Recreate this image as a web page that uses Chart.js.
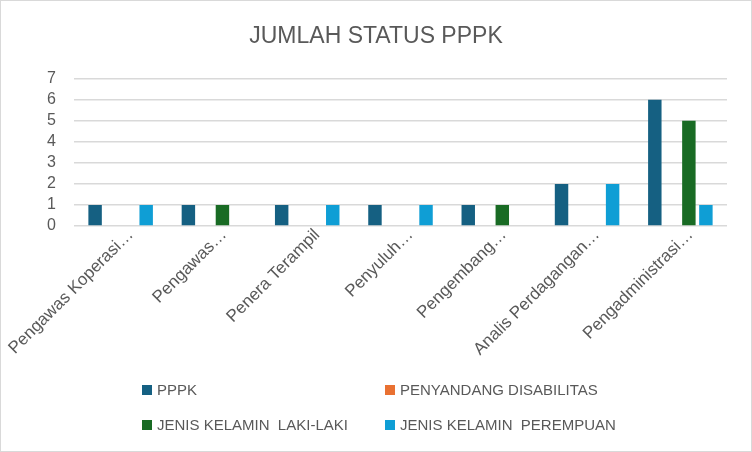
<!DOCTYPE html>
<html>
<head>
<meta charset="utf-8">
<script src="https://cdn.jsdelivr.net/npm/chart.js@4/dist/chart.umd.min.js"></script>
<style>
  html, body { margin: 0; padding: 0; background: #fff; }
  #wrap { width: 752px; height: 452px; box-sizing: border-box; border: 1px solid #d9d9d9; }
  canvas { display: block; }
</style>
</head>
<body>
<div id="wrap"><canvas id="chartCanvas" width="750" height="450"></canvas></div>
<script>
// data
const categories = ['Pengawas Koperasi…', 'Pengawas…', 'Penera Terampil', 'Penyuluh…', 'Pengembang…', 'Analis Perdagangan…', 'Pengadministrasi…'];
const seriesNames = ['PPPK', 'PENYANDANG DISABILITAS', 'JENIS KELAMIN  LAKI-LAKI', 'JENIS KELAMIN  PEREMPUAN'];
const pppk = [1, 1, 1, 1, 1, 2, 6];
const disabilitas = [0, 0, 0, 0, 0, 0, 0];
const lakiLaki = [0, 1, 0, 0, 1, 0, 5];
const perempuan = [1, 0, 1, 1, 0, 2, 1];
const yTicks = [0, 1, 2, 3, 4, 5, 6, 7];

const colors = ['#156082', '#E97132', '#196B24', '#0F9ED5'];
const textColor = '#595959';
const fontFamily = '"Liberation Sans", Arial, sans-serif';

// legend in two columns, like the Excel one
const gridLegend = {
  id: 'gridLegend',
  afterDraw(chart) {
    const ctx = chart.ctx;
    const cols = [chart.width * 0.188, chart.width * 0.512];
    const rows = [chart.height - 61, chart.height - 26];
    ctx.save();
    ctx.font = '15px ' + fontFamily;
    ctx.textBaseline = 'middle';
    chart.data.datasets.forEach(function(ds, i) {
      const x = cols[i % 2];
      const y = rows[Math.floor(i / 2)];
      ctx.fillStyle = ds.backgroundColor;
      ctx.fillRect(x, y - 5, 10, 10);
      ctx.fillStyle = textColor;
      ctx.fillText(ds.label, x + 15, y + 1);
    });
    ctx.restore();
  }
};

const allSeries = [pppk, disabilitas, lakiLaki, perempuan];

const myChart = new Chart(document.getElementById('chartCanvas'), {
  type: 'bar',
  data: {
    labels: categories,
    datasets: allSeries.map(function(values, i) {
      return {
        label: seriesNames[i],
        data: values,
        backgroundColor: colors[i],
        categoryPercentage: 0.73,
        barPercentage: 0.79
      };
    })
  },
  options: {
    responsive: false,
    animation: false,
    layout: { padding: { left: 0, right: 0, top: 0, bottom: 88 } },
    plugins: {
      legend: { display: false },
      tooltip: { enabled: false },
      title: {
        display: true,
        text: 'JUMLAH STATUS PPPK',
        color: textColor,
        font: { family: fontFamily, size: 23, weight: 'normal' },
        padding: { top: 22, bottom: 28 }
      }
    },
    scales: {
      x: {
        grid: { display: false },
        border: { display: false },
        afterFit: function(scale) {
          scale.height = 137;
          scale.paddingLeft = 0;
          scale.paddingRight = 24;
        },
        ticks: {
          autoSkip: false,
          maxRotation: 45,
          minRotation: 45,
          padding: -9,
          labelOffset: 10,
          color: textColor,
          font: { family: fontFamily, size: 17 }
        }
      },
      y: {
        min: 0,
        max: 7,
        afterBuildTicks: function(axis) {
          axis.ticks = yTicks.map(function(v) { return { value: v }; });
        },
        afterFit: function(scale) {
          scale.width = 73;
          scale.paddingTop = 0;
          scale.paddingBottom = 0;
        },
        grid: { color: '#d9d9d9', lineWidth: 1.5, drawTicks: false },
        border: { display: false },
        ticks: {
          autoSkip: false,
          padding: 18,
          color: textColor,
          font: { family: fontFamily, size: 16 }
        }
      }
    }
  },
  plugins: [gridLegend]
});
</script>
</body>
</html>
